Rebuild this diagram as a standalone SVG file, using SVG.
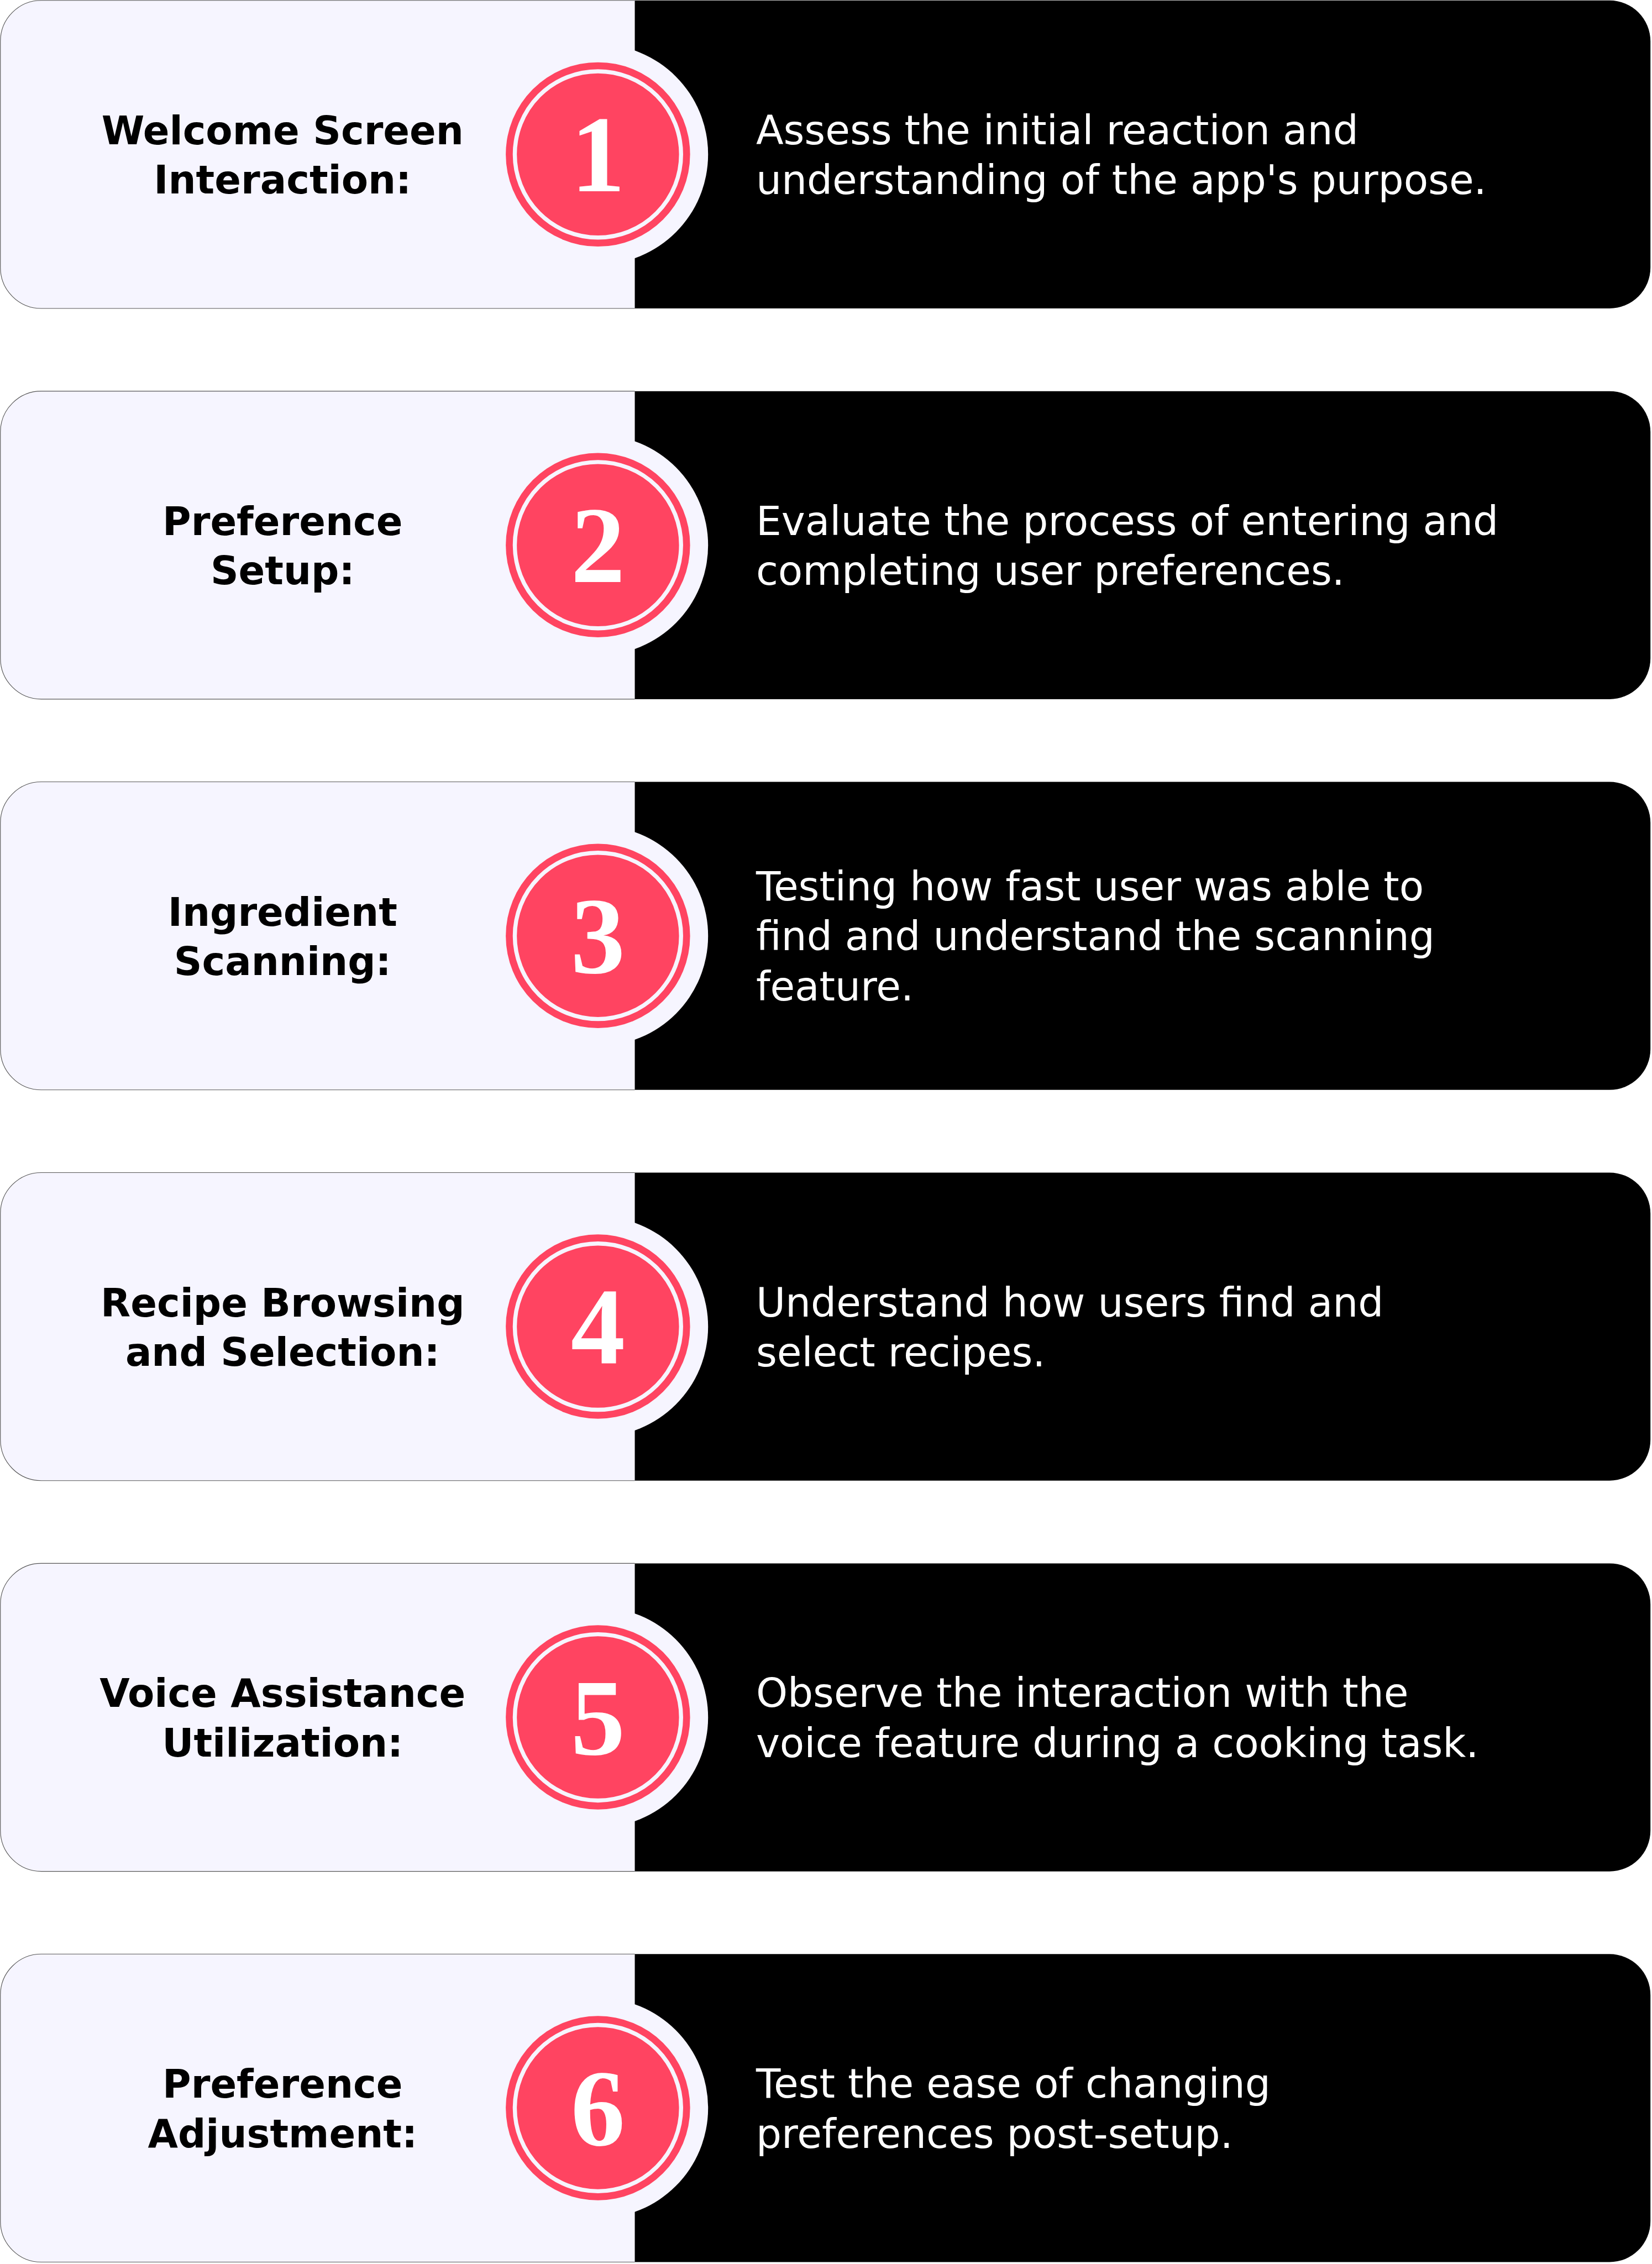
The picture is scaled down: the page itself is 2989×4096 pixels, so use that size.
<svg xmlns="http://www.w3.org/2000/svg" width="2989" height="4096" viewBox="0 0 2989 4096">
<style>
.lt{fill:#F6F5FF}
.lbox{fill:#F6F5FF;stroke:#555;stroke-width:1.5}
.dark{fill:#000}
.pink{fill:#FF4461}
.ring{fill:none;stroke:#F6F5FF;stroke-width:10}
.num{font-family:"Liberation Serif","DejaVu Serif",serif;font-weight:bold;font-size:265px;fill:#fff;text-anchor:middle}
.lbl{font-family:"DejaVu Sans","Noto Sans",sans-serif;font-weight:bold;font-size:95px;fill:#000;text-anchor:middle}
.desc{font-family:"DejaVu Sans","Noto Sans",sans-serif;font-size:98px;fill:#fff}
</style>
<defs>
<g id="card">
<path class="lbox" d="M1550,1 H101 A100,100 0 0 0 1,101 V653 A100,100 0 0 0 101,753 H1550"/>
<path class="dark" d="M1550,1 H3930 A100,100 0 0 1 4030,101 V653 A100,100 0 0 1 3930,753 H1550 Z"/>
<circle class="lt" cx="1460" cy="377" r="269"/>
<circle class="pink" cx="1460" cy="377" r="225"/>
<circle class="ring" cx="1460" cy="377" r="203"/>
</g>
</defs>
<rect width="2989" height="4096" fill="#fff"/>
<g transform="scale(0.741)">
<g id="connectors"/>
<g id="step1" transform="translate(0,0)">
<use href="#card"/>
<text class="num" x="1460" y="467">1</text>
<text class="lbl" x="690" y="352">Welcome Screen</text>
<text class="lbl" x="690" y="473">Interaction:</text>
<text class="desc" x="1846" y="352">Assess the initial reaction and</text>
<text class="desc" x="1846" y="474">understanding of the app's purpose.</text>
</g>
<g id="step2" transform="translate(0,954)">
<use href="#card"/>
<text class="num" x="1460" y="467">2</text>
<text class="lbl" x="690" y="352">Preference</text>
<text class="lbl" x="690" y="473">Setup:</text>
<text class="desc" x="1846" y="352">Evaluate the process of entering and</text>
<text class="desc" x="1846" y="474">completing user preferences.</text>
</g>
<g id="step3" transform="translate(0,1908)">
<use href="#card"/>
<text class="num" x="1460" y="467">3</text>
<text class="lbl" x="690" y="352">Ingredient</text>
<text class="lbl" x="690" y="473">Scanning:</text>
<text class="desc" x="1846" y="291">Testing how fast user was able to</text>
<text class="desc" x="1846" y="412">find and understand the scanning</text>
<text class="desc" x="1846" y="534">feature.</text>
</g>
<g id="step4" transform="translate(0,2862)">
<use href="#card"/>
<text class="num" x="1460" y="467">4</text>
<text class="lbl" x="690" y="352">Recipe Browsing</text>
<text class="lbl" x="690" y="473">and Selection:</text>
<text class="desc" x="1846" y="352">Understand how users find and</text>
<text class="desc" x="1846" y="474">select recipes.</text>
</g>
<g id="step5" transform="translate(0,3816)">
<use href="#card"/>
<text class="num" x="1460" y="467">5</text>
<text class="lbl" x="690" y="352">Voice Assistance</text>
<text class="lbl" x="690" y="473">Utilization:</text>
<text class="desc" x="1846" y="352">Observe the interaction with the</text>
<text class="desc" x="1846" y="474">voice feature during a cooking task.</text>
</g>
<g id="step6" transform="translate(0,4770)">
<use href="#card"/>
<text class="num" x="1460" y="467">6</text>
<text class="lbl" x="690" y="352">Preference</text>
<text class="lbl" x="690" y="473">Adjustment:</text>
<text class="desc" x="1846" y="352">Test the ease of changing</text>
<text class="desc" x="1846" y="474">preferences post-setup.</text>
</g>
</g>
</svg>
